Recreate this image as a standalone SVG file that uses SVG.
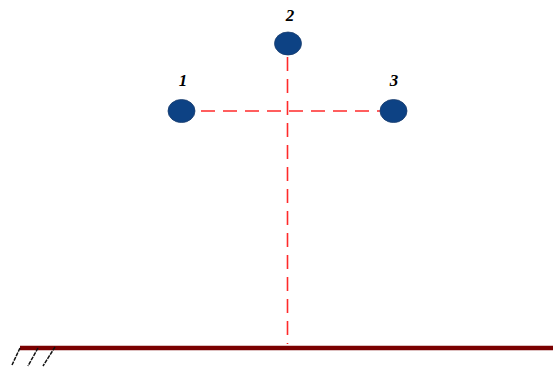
<svg xmlns="http://www.w3.org/2000/svg" width="553" height="371" viewBox="0 0 553 371">
<style>
.dash{stroke:#ff2a2a;stroke-width:1.6;stroke-dasharray:14 8;fill:none}
.node{fill:#0d4284;stroke:#1a3d6e;stroke-width:0.8}
.lbl{font-family:"Liberation Serif",serif;font-weight:bold;font-style:italic;font-size:17px;fill:#000;text-anchor:middle}
.hatch{stroke:#111;stroke-width:1.5;stroke-dasharray:4 1}
</style>
<rect width="553" height="371" fill="#fff"/>
<g id="connectors">
<line class="dash" x1="201" y1="111" x2="380" y2="111"/>
<line class="dash" x1="287.5" y1="57" x2="287.5" y2="344"/>
</g>
<g id="ground">
<line x1="20" y1="348" x2="553" y2="348" stroke="#7a0000" stroke-width="4.5"/>
<line class="hatch" x1="20" y1="348" x2="12" y2="365"/>
<line class="hatch" x1="38" y1="348" x2="28" y2="366"/>
<line class="hatch" x1="55" y1="347" x2="43" y2="366"/>
</g>
<g id="node1">
<ellipse class="node" cx="181.5" cy="111" rx="13.5" ry="11.5"/>
<text class="lbl" x="183" y="86">1</text>
</g>
<g id="node2">
<ellipse class="node" cx="288" cy="43.5" rx="13.5" ry="11.5"/>
<text class="lbl" x="290" y="21">2</text>
</g>
<g id="node3">
<ellipse class="node" cx="393.5" cy="111" rx="13.5" ry="11.5"/>
<text class="lbl" x="394" y="86">3</text>
</g>
</svg>
